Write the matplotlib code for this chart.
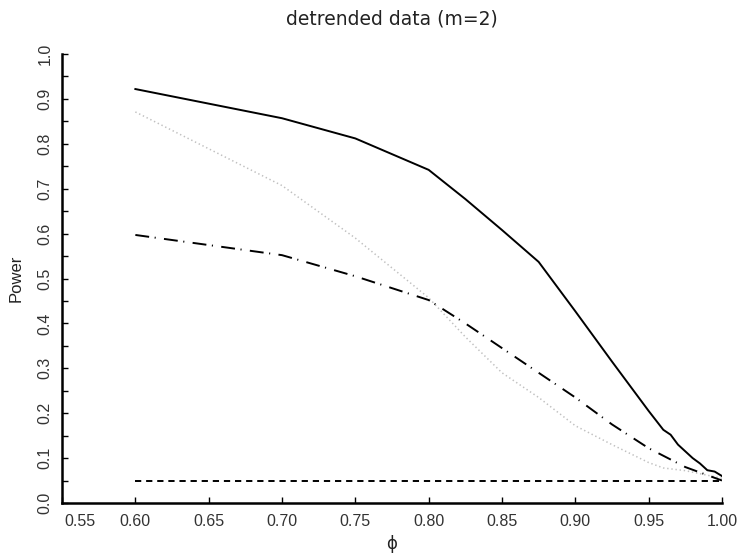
import matplotlib
matplotlib.use("Agg")
import matplotlib.pyplot as plt
import matplotlib.transforms as mtransforms

# donnees
phi_solid = [0.60, 0.70, 0.75, 0.80, 0.825, 0.85, 0.875, 0.90, 0.925, 0.95,
             0.96, 0.965, 0.97, 0.975, 0.98, 0.985, 0.99, 0.995, 1.00]
pow_solid = [0.922, 0.857, 0.812, 0.742, 0.677, 0.608, 0.537, 0.427, 0.315, 0.205,
             0.163, 0.152, 0.130, 0.115, 0.100, 0.088, 0.073, 0.070, 0.060]

phi_dot = [0.60, 0.70, 0.75, 0.80, 0.825, 0.85, 0.875, 0.90, 0.925, 0.95, 0.96, 0.975, 1.00]
pow_dot = [0.871, 0.707, 0.590, 0.457, 0.370, 0.290, 0.235, 0.172, 0.130, 0.090, 0.078, 0.072, 0.055]

phi_dd = [0.60, 0.70, 0.75, 0.80, 0.825, 0.85, 0.875, 0.90, 0.925, 0.95, 0.975, 1.00]
pow_dd = [0.597, 0.552, 0.505, 0.452, 0.400, 0.345, 0.290, 0.235, 0.175, 0.122, 0.080, 0.050]

phi_lvl = [0.60, 1.00]
pow_lvl = [0.05, 0.05]

xticks = [0.55, 0.60, 0.65, 0.70, 0.75, 0.80, 0.85, 0.90, 0.95, 1.00]
yticks = [0.0, 0.1, 0.2, 0.3, 0.4, 0.5, 0.6, 0.7, 0.8, 0.9, 1.0]
yminor = [0.05, 0.15, 0.25, 0.35, 0.45, 0.55, 0.65, 0.75, 0.85, 0.95]

plt.rcParams['lines.scale_dashes'] = False
plt.rcParams['font.family'] = ['Liberation Sans', 'DejaVu Sans']

fig = plt.figure(figsize=(7.42, 5.57), dpi=100)
ax = fig.add_axes([0.0836, 0.097, 0.8894, 0.806])

ax.plot(phi_solid, pow_solid, color='black', lw=1.4)
ax.plot(phi_dot, pow_dot, color='#c0c0c0', lw=1.1, linestyle=(0, (1, 2)))
ax.plot(phi_dd, pow_dd, color='black', lw=1.4, linestyle=(0, (10, 4, 0.8, 6)))
ax.plot(phi_lvl, pow_lvl, color='black', lw=1.4, linestyle=(0, (4.5, 3.5)))

ax.set_xlim(0.55, 1.00)
ax.set_ylim(0.0, 1.0)
for s in ['top', 'right']:
    ax.spines[s].set_visible(False)
for s in ['left', 'bottom']:
    ax.spines[s].set_linewidth(1.8)

ax.set_xticks(xticks)
ax.set_xticklabels([f"{v:.2f}" for v in xticks])
ax.set_yticks(yticks)
ax.set_yticklabels([f"{v:.1f}" for v in yticks], rotation=90, va='center')
ax.set_yticks(yminor, minor=True)
ax.tick_params(axis='both', which='both', direction='in', length=4, width=1,
               labelsize=11.5, colors='black', labelcolor='#333333')
ax.tick_params(axis='x', pad=8)
ax.tick_params(axis='y', pad=7)

# decaler le premier label pour eviter le chevauchement avec 0.0
lbl0 = ax.get_xticklabels()[0]
lbl0.set_transform(lbl0.get_transform() + mtransforms.ScaledTranslation(18 / 100, 0, fig.dpi_scale_trans))

ax.set_title("detrended data (m=2)", fontsize=13.5, family='DejaVu Sans',
             color='#222222', pad=21)
ax.set_xlabel("\u03d5", fontsize=12, family='DejaVu Sans', color='#222222', labelpad=4)
ax.set_ylabel("Power", fontsize=12, color='#222222', labelpad=10)

fig.savefig("out.png", dpi=100)
